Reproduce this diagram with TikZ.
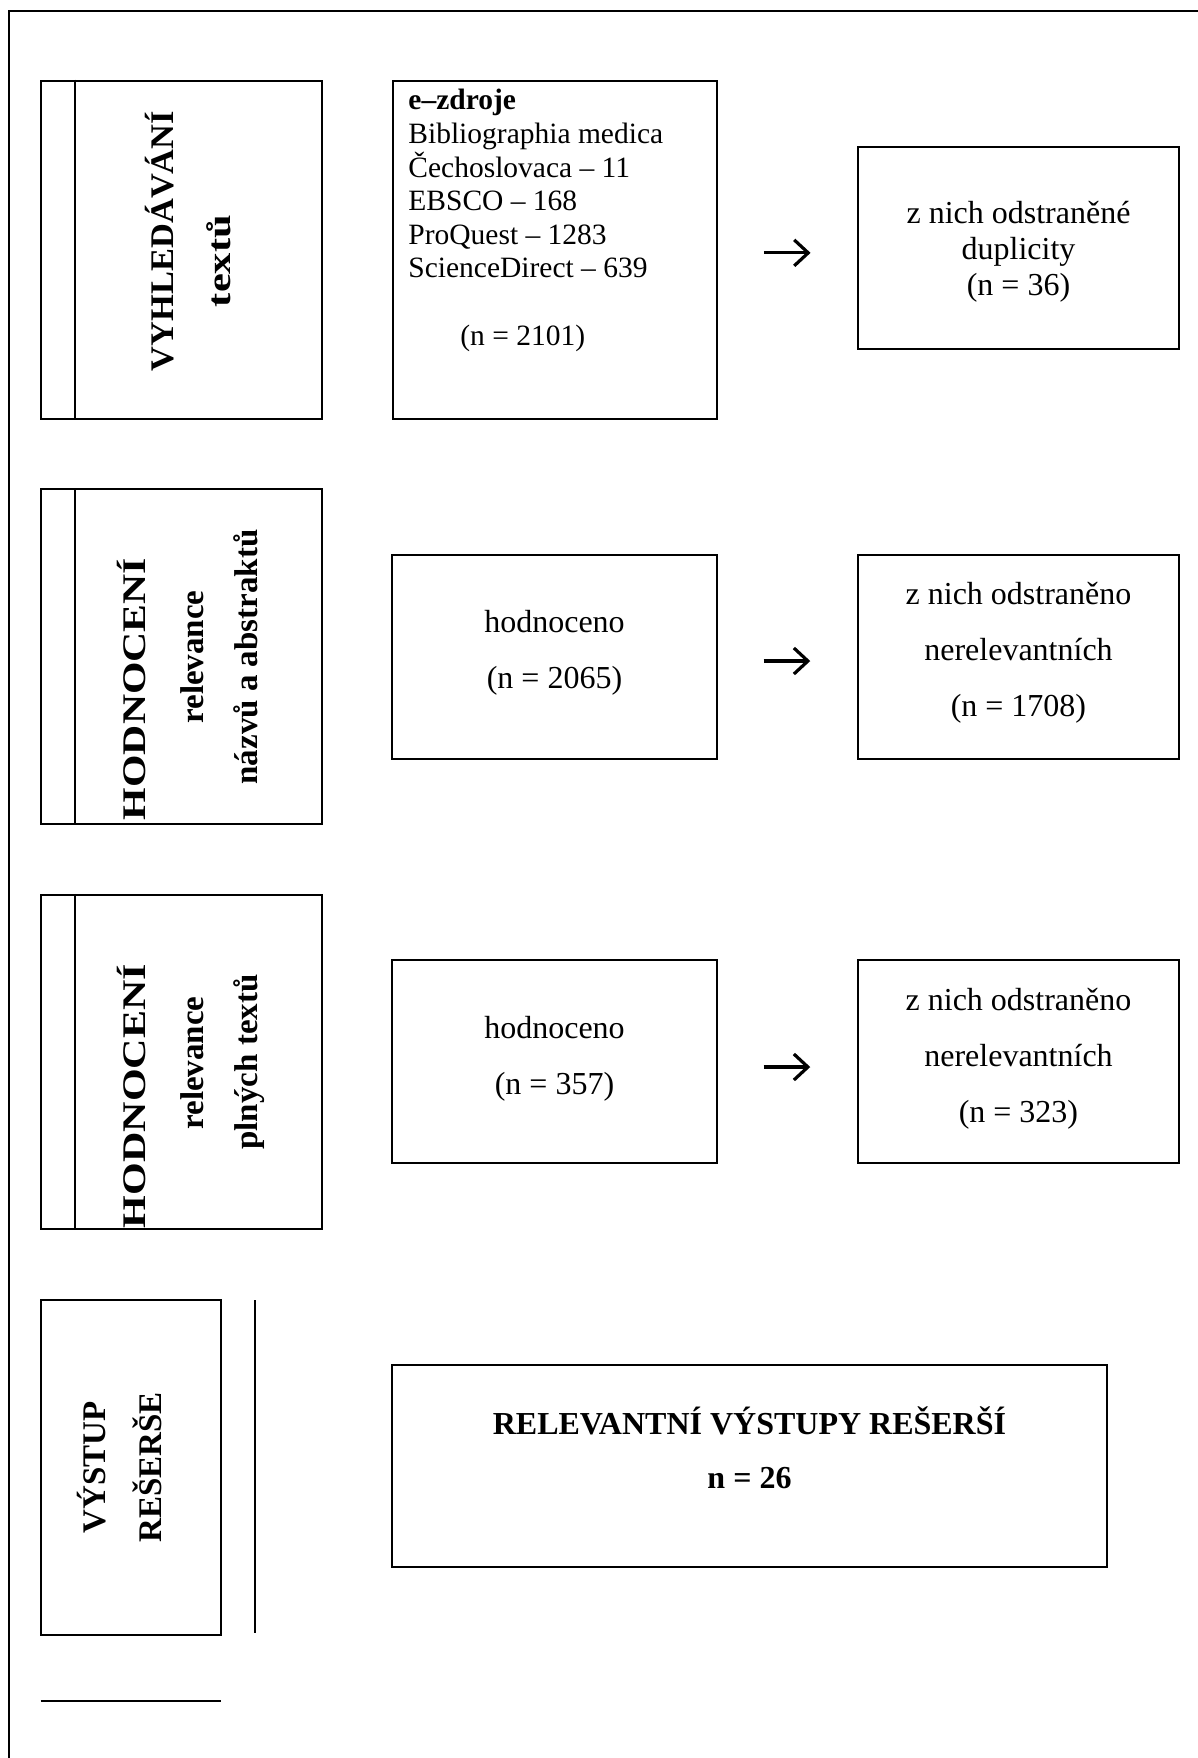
\documentclass[tikz,border=0pt]{standalone}
\usepackage{fontspec}
\setmainfont{Liberation Serif}
\usetikzlibrary{fit,arrows.meta,calc}
\begin{document}
\begin{tikzpicture}[x=0.5pt,y=-0.5pt,
  box/.style={draw, line width=1.15pt, inner sep=0pt},
  vtxt/.style={rotate=90, anchor=base, inner sep=0pt, font=\bfseries\fontsize{16.5pt}{19pt}\selectfont},
  ntxt/.style={align=center, inner sep=0pt, font=\fontsize{16pt}{28pt}\selectfont},
  rtxt/.style={align=center, inner sep=0pt, font=\fontsize{16pt}{18pt}\selectfont},
  btxt/.style={anchor=base, inner sep=0pt, font=\bfseries\fontsize{16pt}{19pt}\selectfont},
  arr/.style={line width=1.6pt, -{Straight Barb[length=7pt,width=13pt]}, shorten <=22.7pt, shorten >=23.3pt},
  rule/.style={line width=1.25pt}]
\useasboundingbox (0,0) rectangle (1198,1758);
% outer frame (cut off at right and bottom)
\draw[line width=1.35pt] (1198,11) -- (9,11) -- (9,1758);

% ---- row 1
\node[box, fit={(40.7,80.7) (322,418.7)}] (A1) {};
\draw[box] ([xshift=17.65pt]A1.north west) -- ([xshift=17.65pt]A1.south west);
\node[vtxt] (A1a) at (173,241) {\resizebox{130pt}{\height}{VYHLEDÁVÁNÍ}};
\node[vtxt] (A1b) at (230,261) {\resizebox{46pt}{\height}{textů}};

\node[box, fit={(392.7,80.7) (717.3,419)}] (A2) {};
\node[anchor=north west, inner sep=0pt, align=left, font=\fontsize{14.75pt}{16.8pt}\selectfont] (A2t) at (408,89)
  {\textbf{e–zdroje}\\ Bibliographia medica\\ Čechoslovaca – 11\\ EBSCO – 168\\ ProQuest – 1283\\ ScienceDirect – 639\\[16.8pt] \hspace*{26pt}(n = 2101)};

\node[box, fit={(858.3,146.7) (1178.7,349.3)}] (A3) {};
\node[rtxt] (A3t) at (1018.5,252) {z nich odstraněné\\ duplicity\\ (n = 36)};
\draw[arr] ([yshift=-1.5pt]A2.east) -- ([yshift=-1.5pt]A2.east -| A3.west);

% ---- row 2
\node[box, fit={(40.7,489.3) (322,824)}] (B1) {};
\draw[box] ([xshift=17.65pt]B1.north west) -- ([xshift=17.65pt]B1.south west);
\node[vtxt] (B1a) at (145,689) {\resizebox{131pt}{\height}{HODNOCENÍ}};
\node[vtxt] (B1b) at (203,657) {relevance};
\node[vtxt] (B1c) at (257,657) {názvů a abstraktů};

\node[box, fit={(392,555) (717,759)}] (B2) {};
\node[ntxt] (B2t) at (554.5,653) {hodnoceno\\ (n = 2065)};
\node[box, fit={(858,555) (1179,759)}] (B3) {};
\node[ntxt] (B3t) at (1018.5,653) {z nich odstraněno\\ nerelevantních\\ (n = 1708)};
\draw[arr] ([yshift=-2pt]B2.east) -- ([yshift=-2pt]B2.east -| B3.west);

% ---- row 3
\node[box, fit={(40.7,895) (322,1229.3)}] (C1) {};
\draw[box] ([xshift=17.65pt]C1.north west) -- ([xshift=17.65pt]C1.south west);
\node[vtxt] (C1a) at (145,1096) {\resizebox{132pt}{\height}{HODNOCENÍ}};
\node[vtxt] (C1b) at (203,1063) {relevance};
\node[vtxt] (C1c) at (257,1062) {plných textů};

\node[box, fit={(392,960) (717,1163)}] (C2) {};
\node[ntxt] (C2t) at (554.5,1059) {hodnoceno\\ (n = 357)};
\node[box, fit={(858,960) (1179,1163)}] (C3) {};
\node[ntxt] (C3t) at (1018.5,1059) {z nich odstraněno\\ nerelevantních\\ (n = 323)};
\draw[arr] ([yshift=-2.75pt]C2.east) -- ([yshift=-2.75pt]C2.east -| C3.west);

% ---- row 4
\node[box, fit={(40.7,1300) (221,1635)}] (D1) {};
\node[vtxt] (D1a) at (105,1467.5) {VÝSTUP};
\node[vtxt] (D1b) at (161.7,1467.5) {REŠERŠE};
\coordinate (V1) at (255,1300);
\coordinate (V2) at (255,1633);
\draw[rule] (V1) -- (V2);
\coordinate (H1) at (40.7,1701);
\coordinate (H2) at (221,1701);
\draw[rule] (H1) -- (H2);

\node[box, fit={(392,1365) (1107,1567)}] (D2) {};
\node[btxt] (D2a) at (749.5,1434) {RELEVANTNÍ VÝSTUPY REŠERŠÍ};
\node[btxt] (D2b) at (749.5,1488) {n = 26};
\end{tikzpicture}
\end{document}
